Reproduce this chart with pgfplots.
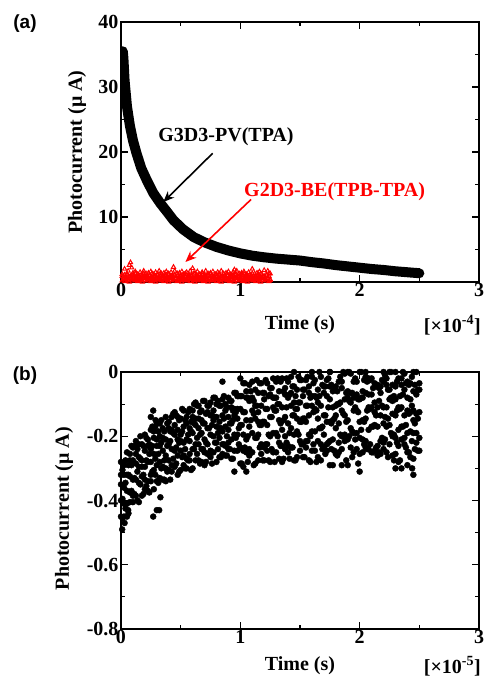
\documentclass[border=0pt]{standalone}
\usepackage{pgfplots}
\pgfplotsset{compat=1.18}
\usepackage{pgfplotstable}
\usepackage{fontspec}
\setmainfont{Liberation Serif}
\newfontfamily\arialfont{Liberation Sans}
\usetikzlibrary{arrows.meta}
\newcommand\bigf{\fontsize{20}{22}\selectfont\bfseries}

\pgfplotstableread{
x y
0.015 35.5
0.02 34.5
0.03 31.0
0.05 27.0
0.075 24.0
0.10 21.8
0.13 19.8
0.17 17.5
0.215 15.7
0.27 13.7
0.33 12.1
0.39 10.7
0.44 9.5
0.52 8.1
0.61 6.9
0.70 6.1
0.80 5.4
0.90 4.85
1.00 4.4
1.10 4.05
1.20 3.8
1.30 3.6
1.40 3.45
1.50 3.3
1.60 3.05
1.70 2.85
1.80 2.6
1.90 2.4
2.00 2.2
2.10 2.0
2.20 1.85
2.30 1.65
2.40 1.5
2.50 1.35
}\decay

\pgfplotstableread{
x y1 y2 y3
0.01 0.2 1.2 0.9
0.02 0.5 0.8 0.4
0.03 0.1 2.0 1.1
0.04 0.4 0.6 0.6
0.05 0.7 1.1 1.3
0.06 0.3 1.7 0.3
0.07 0.0 2.6 0.8
0.08 0.6 3.0 0.9
0.09 0.2 2.2 0.4
0.10 0.8 1.4 1.1
0.11 0.4 1.0 0.6
0.12 0.2 1.6 1.3
0.13 0.5 0.7 0.3
0.14 0.1 1.2 0.8
0.15 0.4 0.8 0.9
0.16 0.7 1.5 0.4
0.17 0.3 0.6 1.1
0.18 0.0 1.1 0.6
0.19 0.6 1.7 1.3
0.20 0.2 0.9 0.3
0.21 0.8 1.3 0.8
0.22 0.4 0.5 0.9
0.23 0.2 1.4 0.4
0.24 0.5 1.0 1.1
0.25 0.1 1.6 0.6
0.26 0.4 0.7 1.3
0.27 0.7 1.2 0.3
0.28 0.3 0.8 0.8
0.29 0.0 1.5 0.9
0.30 0.6 0.6 0.4
0.31 0.2 1.1 1.1
0.32 0.8 1.7 0.6
0.33 0.4 0.9 1.3
0.34 0.2 1.3 0.3
0.35 0.5 0.5 0.8
0.36 0.1 1.4 0.9
0.37 0.4 1.0 0.4
0.38 0.7 1.6 1.1
0.39 0.3 0.7 0.6
0.40 0.0 1.2 1.3
0.41 0.6 0.8 0.3
0.42 0.2 1.5 0.8
0.43 0.8 0.6 0.9
0.44 0.4 2.3 0.4
0.45 0.2 1.7 1.1
0.46 0.5 0.9 0.6
0.47 0.1 1.3 1.3
0.48 0.4 0.5 0.3
0.49 0.7 1.4 0.8
0.50 0.3 1.0 0.9
0.51 0.0 1.6 0.4
0.52 0.6 0.7 1.1
0.53 0.2 1.2 0.6
0.54 0.8 0.8 1.3
0.55 0.4 1.5 0.3
0.56 0.2 0.6 0.8
0.57 0.5 1.1 0.9
0.58 0.1 1.7 0.4
0.59 0.4 0.9 1.1
0.60 0.7 2.1 0.6
0.61 0.3 0.5 1.3
0.62 0.0 1.4 0.3
0.63 0.6 1.0 0.8
0.64 0.2 1.6 0.9
0.65 0.8 0.7 0.4
0.66 0.4 1.2 1.1
0.67 0.2 0.8 0.6
0.68 0.5 1.5 1.3
0.69 0.1 0.6 0.3
0.70 0.4 1.1 0.8
0.71 0.7 1.7 0.9
0.72 0.3 0.9 0.4
0.73 0.0 1.3 1.1
0.74 0.6 0.5 0.6
0.75 0.2 1.4 1.3
0.76 0.8 1.0 0.3
0.77 0.4 1.6 0.8
0.78 0.2 0.7 0.9
0.79 0.5 1.2 0.4
0.80 0.1 0.8 1.1
0.81 0.4 1.5 0.6
0.82 0.7 0.6 1.3
0.83 0.3 1.1 0.3
0.84 0.0 1.7 0.8
0.85 0.6 0.9 0.9
0.86 0.2 1.3 0.4
0.87 0.8 0.5 1.1
0.88 0.4 1.4 0.6
0.89 0.2 1.0 1.3
0.90 0.5 1.6 0.3
0.91 0.1 0.7 0.8
0.92 0.4 1.2 0.9
0.93 0.7 0.8 0.4
0.94 0.3 1.5 1.1
0.95 0.0 1.9 0.6
0.96 0.6 1.1 1.3
0.97 0.2 1.7 0.3
0.98 0.8 0.9 0.8
0.99 0.4 1.3 0.9
1.00 0.2 0.5 0.4
1.01 0.5 1.4 1.1
1.02 0.1 1.0 0.6
1.03 0.4 1.6 1.3
1.04 0.7 0.7 0.3
1.05 0.3 1.2 0.8
1.06 0.0 0.8 0.9
1.07 0.6 1.5 0.4
1.08 0.2 0.6 1.1
1.09 0.8 1.1 0.6
1.10 0.4 2.0 1.3
1.11 0.2 0.9 0.3
1.12 0.5 1.3 0.8
1.13 0.1 0.5 0.9
1.14 0.4 1.4 0.4
1.15 0.7 1.0 1.1
1.16 0.3 1.6 0.6
1.17 0.0 0.7 1.3
1.18 0.6 1.2 0.3
1.19 0.2 0.8 0.8
1.20 0.8 1.8 0.9
1.21 0.4 0.6 0.4
1.22 0.2 1.1 1.1
1.23 0.5 1.7 0.6
1.24 0.1 0.9 1.3
1.25 0.4 1.3 0.3
}\redtab

\pgfplotstableread{
x y1 y2 y3 y4 y5
0.000 -0.45 -0.35 -0.28 -0.40 -0.32
0.025 -0.32 -0.45 -0.36 -0.29 -0.41
0.050 -0.37 -0.25 -0.41 -0.32 -0.45
0.075 -0.255 -0.375 -0.275 -0.405 -0.325
0.100 -0.385 -0.275 -0.335 -0.235 -0.405
0.125 -0.285 -0.385 -0.215 -0.335 -0.255
0.150 -0.405 -0.295 -0.345 -0.225 -0.265
0.175 -0.225 -0.325 -0.385 -0.275 -0.295
0.200 -0.335 -0.195 -0.245 -0.365 -0.295
0.225 -0.28 -0.34 -0.21 -0.23 -0.37
0.250 -0.18 -0.28 -0.34 -0.32 -0.24
0.275 -0.305 -0.205 -0.255 -0.365 -0.185
0.300 -0.21 -0.34 -0.23 -0.16 -0.29
0.325 -0.33 -0.23 -0.16 -0.28 -0.20
0.350 -0.205 -0.335 -0.245 -0.175 -0.295
0.375 -0.26 -0.14 -0.30 -0.21 -0.34
0.400 -0.155 -0.275 -0.175 -0.305 -0.225
0.425 -0.29 -0.18 -0.24 -0.14 -0.31
0.450 -0.195 -0.295 -0.125 -0.245 -0.165
0.475 -0.32 -0.21 -0.26 -0.14 -0.18
0.500 -0.145 -0.245 -0.305 -0.195 -0.215
0.525 -0.26 -0.12 -0.17 -0.29 -0.22
0.550 -0.21 -0.27 -0.14 -0.16 -0.30
0.575 -0.115 -0.215 -0.275 -0.255 -0.175
0.600 -0.24 -0.14 -0.19 -0.30 -0.12
0.625 -0.145 -0.275 -0.165 -0.095 -0.225
0.650 -0.275 -0.175 -0.105 -0.225 -0.145
0.675 -0.15 -0.28 -0.19 -0.12 -0.24
0.700 -0.21 -0.09 -0.25 -0.16 -0.29
0.725 -0.105 -0.225 -0.125 -0.255 -0.175
0.750 -0.245 -0.135 -0.195 -0.095 -0.265
0.775 -0.15 -0.25 -0.08 -0.20 -0.12
0.800 -0.28 -0.17 -0.22 -0.10 -0.14
0.825 -0.105 -0.205 -0.265 -0.155 -0.175
0.850 -0.225 -0.085 -0.135 -0.255 -0.185
0.875 -0.17 -0.23 -0.10 -0.12 -0.26
0.900 -0.08 -0.18 -0.24 -0.22 -0.14
0.925 -0.21 -0.11 -0.16 -0.27 -0.09
0.950 -0.115 -0.245 -0.135 -0.065 -0.195
0.975 -0.245 -0.145 -0.075 -0.195 -0.115
1.000 -0.115 -0.285 -0.165 -0.075 -0.235
1.025 -0.195 -0.035 -0.245 -0.125 -0.295
1.050 -0.06 -0.21 -0.08 -0.25 -0.15
1.075 -0.24 -0.09 -0.17 -0.04 -0.26
1.100 -0.12 -0.25 -0.03 -0.19 -0.08
1.125 -0.285 -0.145 -0.205 -0.055 -0.105
1.150 -0.065 -0.195 -0.275 -0.125 -0.155
1.175 -0.225 -0.035 -0.105 -0.255 -0.165
1.200 -0.155 -0.235 -0.065 -0.085 -0.275
1.225 -0.035 -0.165 -0.245 -0.225 -0.115
1.250 -0.20 -0.07 -0.14 -0.28 -0.05
1.275 -0.08 -0.25 -0.11 -0.02 -0.19
1.300 -0.25 -0.12 -0.03 -0.19 -0.08
1.325 -0.10 -0.27 -0.15 -0.06 -0.22
1.350 -0.18 -0.02 -0.23 -0.11 -0.28
1.375 -0.05 -0.20 -0.07 -0.24 -0.14
1.400 -0.23 -0.08 -0.16 -0.03 -0.25
1.425 -0.105 -0.235 -0.015 -0.175 -0.065
1.450 -0.275 -0.135 -0.195 -0.045 -0.095
1.475 -0.055 -0.185 -0.265 -0.115 -0.145
1.500 -0.215 -0.025 -0.095 -0.245 -0.155
1.525 -0.145 -0.225 -0.055 -0.075 -0.265
1.550 -0.025 -0.155 -0.235 -0.215 -0.105
1.575 -0.195 -0.065 -0.135 -0.275 -0.045
1.600 -0.075 -0.245 -0.105 -0.015 -0.185
1.625 -0.245 -0.115 -0.025 -0.185 -0.075
1.650 -0.095 -0.265 -0.145 -0.055 -0.215
1.675 -0.175 -0.015 -0.225 -0.105 -0.275
1.700 -0.045 -0.195 -0.065 -0.235 -0.135
1.725 -0.225 -0.075 -0.155 -0.025 -0.245
1.750 -0.085 -0.215 0.0 -0.155 -0.045
1.775 -0.29 -0.15 -0.21 -0.06 -0.11
1.800 -0.045 -0.175 -0.255 -0.105 -0.135
1.825 -0.22 -0.03 -0.10 -0.25 -0.16
1.850 -0.12 -0.20 -0.03 -0.05 -0.24
1.875 -0.005 -0.135 -0.215 -0.195 -0.085
1.900 -0.21 -0.08 -0.15 -0.29 -0.06
1.925 -0.065 -0.235 -0.095 -0.005 -0.175
1.950 -0.25 -0.12 -0.03 -0.19 -0.08
1.975 -0.07 -0.24 -0.12 -0.03 -0.19
2.000 -0.155 0.0 -0.205 -0.085 -0.255
2.025 -0.06 -0.21 -0.08 -0.25 -0.15
2.050 -0.215 -0.065 -0.145 -0.015 -0.235
2.075 -0.11 -0.24 -0.02 -0.18 -0.07
2.100 -0.25 -0.11 -0.17 -0.02 -0.07
2.125 -0.035 -0.165 -0.245 -0.095 -0.125
2.150 -0.23 -0.04 -0.11 -0.26 -0.17
2.175 -0.135 -0.215 -0.045 -0.065 -0.255
2.200 -0.03 -0.16 -0.24 -0.22 -0.11
2.225 -0.17 -0.04 -0.11 -0.25 -0.02
2.250 -0.055 -0.225 -0.085 0.0 -0.165
2.275 -0.26 -0.13 -0.04 -0.20 -0.09
2.300 -0.085 -0.255 -0.135 -0.045 -0.205
2.325 -0.18 -0.02 -0.23 -0.11 -0.28
2.350 -0.02 -0.17 -0.04 -0.21 -0.11
2.375 -0.205 -0.055 -0.135 -0.005 -0.225
2.400 -0.12 -0.25 -0.03 -0.19 -0.08
2.425 -0.265 -0.125 -0.185 -0.035 -0.085
2.450 -0.06 -0.19 -0.27 -0.12 -0.15
2.475 -0.19 0.0 -0.07 -0.22 -0.13
2.500 -0.125 -0.205 -0.035 -0.055 -0.245
}\scat

\pgfplotstableread{
x y1 y2 y3
0.0125 -0.305 -0.395 -0.455
0.0375 -0.425 -0.275 -0.345
0.0625 -0.32 -0.44 -0.29
0.0875 -0.37 -0.29 -0.23
0.1125 -0.23 -0.38 -0.33
0.1375 -0.40 -0.31 -0.24
0.1625 -0.27 -0.20 -0.35
0.1875 -0.23 -0.32 -0.38
0.2125 -0.355 -0.205 -0.275
0.2375 -0.255 -0.375 -0.225
0.2625 -0.31 -0.23 -0.17
0.2875 -0.17 -0.32 -0.27
0.3125 -0.345 -0.255 -0.185
0.3375 -0.22 -0.15 -0.30
0.3625 -0.185 -0.275 -0.335
0.3875 -0.31 -0.16 -0.23
0.4125 -0.215 -0.335 -0.185
0.4375 -0.27 -0.19 -0.13
0.4625 -0.135 -0.285 -0.235
0.4875 -0.31 -0.22 -0.15
0.5125 -0.185 -0.115 -0.265
0.5375 -0.15 -0.24 -0.30
0.5625 -0.275 -0.125 -0.195
0.5875 -0.185 -0.305 -0.155
0.6125 -0.24 -0.16 -0.10
0.6375 -0.105 -0.255 -0.205
0.6625 -0.285 -0.195 -0.125
0.6875 -0.16 -0.09 -0.24
0.7125 -0.13 -0.22 -0.28
0.7375 -0.255 -0.105 -0.175
0.7625 -0.165 -0.285 -0.135
0.7875 -0.22 -0.14 -0.08
0.8125 -0.09 -0.24 -0.19
0.8375 -0.265 -0.175 -0.105
0.8625 -0.145 -0.075 -0.225
0.8875 -0.11 -0.20 -0.26
0.9125 -0.24 -0.09 -0.16
0.9375 -0.15 -0.27 -0.12
0.9625 -0.205 -0.125 -0.065
0.9875 -0.075 -0.225 -0.175
1.0125 -0.285 -0.165 -0.075
1.0375 -0.125 -0.035 -0.235
1.0625 -0.08 -0.20 -0.28
1.0875 -0.25 -0.06 -0.15
1.1125 -0.13 -0.29 -0.09
1.1375 -0.205 -0.105 -0.025
1.1625 -0.035 -0.235 -0.165
1.1875 -0.275 -0.155 -0.065
1.2125 -0.115 -0.025 -0.225
1.2375 -0.075 -0.195 -0.275
1.2625 -0.24 -0.05 -0.14
1.2875 -0.12 -0.28 -0.08
1.3125 -0.20 -0.10 -0.02
1.3375 -0.03 -0.23 -0.16
1.3625 -0.27 -0.15 -0.06
1.3875 -0.11 -0.02 -0.22
1.4125 -0.07 -0.19 -0.27
1.4375 -0.235 -0.045 -0.135
1.4625 -0.115 -0.275 -0.075
1.4875 -0.195 -0.095 -0.015
1.5125 -0.025 -0.225 -0.155
1.5375 -0.265 -0.145 -0.055
1.5625 -0.105 -0.015 -0.215
1.5875 -0.08 -0.20 -0.28
1.6125 -0.225 -0.035 -0.125
1.6375 -0.12 -0.28 -0.08
1.6625 -0.175 -0.075 0.0
1.6875 -0.04 -0.24 -0.17
1.7125 -0.255 -0.135 -0.045
1.7375 -0.11 -0.02 -0.22
1.7625 -0.04 -0.16 -0.24
1.7875 -0.245 -0.055 -0.145
1.8125 -0.10 -0.26 -0.06
1.8375 -0.195 -0.095 -0.015
1.8625 0.0 -0.20 -0.13
1.8875 -0.275 -0.155 -0.065
1.9125 -0.09 0.0 -0.20
1.9375 -0.065 -0.185 -0.265
1.9625 -0.21 -0.02 -0.11
1.9875 -0.125 -0.285 -0.085
2.0125 -0.18 -0.08 0.0
2.0375 -0.025 -0.225 -0.155
2.0625 -0.24 -0.12 -0.03
2.0875 -0.115 -0.025 -0.225
2.1125 -0.05 -0.17 -0.25
2.1375 -0.235 -0.045 -0.135
2.1625 -0.09 -0.25 -0.05
2.1875 -0.205 -0.105 -0.025
2.2125 -0.01 -0.21 -0.14
2.2375 -0.265 -0.145 -0.055
2.2625 -0.08 0.0 -0.19
2.2875 -0.075 -0.195 -0.275
2.3125 -0.22 -0.03 -0.12
2.3375 -0.115 -0.275 -0.075
2.3625 -0.17 -0.07 0.0
2.3875 -0.035 -0.235 -0.165
2.4125 -0.25 -0.13 -0.04
2.4375 -0.105 -0.015 -0.215
2.4625 -0.04 -0.16 -0.24
2.4875 -0.245 -0.055 -0.145
}\scatb

\pgfplotstableread{
x y
0.01 -0.49
0.03 -0.47
0.06 -0.43
0.27 -0.45
0.30 -0.43
0.33 -0.39
0.32 -0.43
0.25 -0.14
0.27 -0.12
0.29 -0.15
2.30 -0.30
2.35 -0.30
2.40 -0.29
2.45 -0.32
2.44 -0.30
1.75 -0.29
1.85 -0.29
0.95 -0.31
1.05 -0.31
2.00 -0.31
1.60 0.0
1.75 0.0
1.90 0.0
2.05 0.0
2.20 0.0
2.30 0.0
2.45 0.0
1.45 0.0
1.00 -0.02
0.85 -0.03
}\extra

\begin{document}
\begin{tikzpicture}
\pgfplotsset{
  mystyle/.style={
    scale only axis, width=358pt,
    xmin=0, xmax=3,
    tick align=inside,
    xtick pos=both, ytick pos=both,
    major tick length=7pt, minor tick length=4pt,
    minor x tick num=1, minor y tick num=1,
    axis line style={line width=1.6pt},
    every tick/.style={black, line width=1.1pt},
    tick label style={font=\bigf},
    label style={font=\bigf},
    xtick={0,1,2,3}, xticklabels={0,1,2,3},
    xticklabel style={yshift=2pt},
    yticklabel style={xshift=1pt},
    xlabel={Time (s)},
    ylabel={Photocurrent (μ A)},
  }
}
\begin{axis}[mystyle, name=pa, at={(0,0)}, anchor=north west, height=260pt,
  ymin=0, ymax=40, ytick={0,10,20,30,40}, yticklabels={,10,20,30,40},
  xlabel style={at={(axis description cs:0.5,0)}, anchor=center, yshift=-43pt},
  ylabel style={at={(axis description cs:-0.123,0.5)}, anchor=center},
]
\addplot[black, line width=10pt, line join=round, line cap=round] table[x=x, y=y] {\decay};
\foreach \c in {y1,y2,y3}{
\addplot[only marks, mark=triangle, mark size=2.4pt, red, mark options={line width=1pt}] table[x=x, y=\c] {\redtab};
}
\node[font=\bigf, anchor=center] at (axis cs:0.88,22.3) {G3D3-PV(TPA)};
\node[font=\bigf, text=red, anchor=center] at (axis cs:1.79,13.9) {G2D3-BE(TPB-TPA)};
\draw[line width=1.6pt, -{Stealth[length=11pt,width=9pt]}] (axis cs:0.768,19.8) -- (axis cs:0.354,12.3);
\draw[red, line width=1.6pt, -{Stealth[length=11pt,width=9pt]}] (axis cs:1.09,12.7) -- (axis cs:0.54,3.08);
\end{axis}

\begin{axis}[mystyle, name=pb, at={(0,-350pt)}, anchor=north west, height=257pt,
  ymin=-0.8, ymax=0, ytick={-0.8,-0.6,-0.4,-0.2,0}, yticklabels={-0.8,-0.6,-0.4,-0.2,0},
  xlabel style={at={(axis description cs:0.5,0)}, anchor=center, yshift=-37pt},
  ylabel style={at={(axis description cs:-0.159,0.469)}, anchor=center},
]
\foreach \c in {y1,y2,y3,y4,y5}{
  \addplot[only marks, mark=*, mark size=3pt, black] table[x=x, y=\c] {\scat};
}
\foreach \c in {y1,y2,y3}{
  \addplot[only marks, mark=*, mark size=3pt, black] table[x=x, y=\c] {\scatb};
}
\addplot[only marks, mark=*, mark size=3pt, black] table[x=x, y=y] {\extra};
\end{axis}

\node[font=\bigf, anchor=east, inner sep=0pt] at ([xshift=2pt,yshift=-43pt]pa.south east) {[×10\textsuperscript{-4}]};
\node[font=\bigf, anchor=east, inner sep=0pt] at ([xshift=2pt,yshift=-37pt]pb.south east) {[×10\textsuperscript{-5}]};
\node[font=\arialfont\fontsize{19}{22}\selectfont\bfseries] at (-96pt,-2pt) {(a)};
\node[font=\arialfont\fontsize{19}{22}\selectfont\bfseries] at (-96pt,-354pt) {(b)};
\pgfresetboundingbox
\path[use as bounding box] (-121pt,22pt) rectangle (365pt,-658pt);
\end{tikzpicture}
\end{document}
